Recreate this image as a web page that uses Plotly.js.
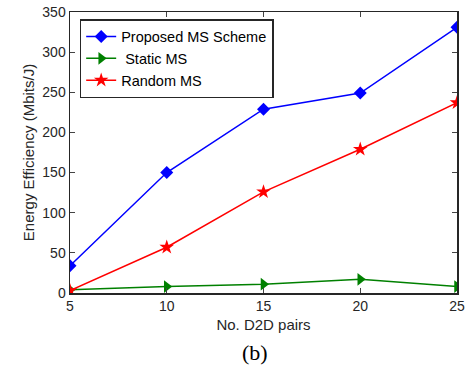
<!DOCTYPE html>
<html><head><meta charset="utf-8">
<script src="https://cdn.plot.ly/plotly-3.0.1.min.js"></script>
<style>html,body{margin:0;padding:0;background:#fff;}#chart{width:467px;height:367px;}</style>
</head><body><div id="chart"></div>
<script>
var pairs = [5, 10, 15, 20, 25];
var proposed = [34, 150, 229, 249, 331];
var staticMS = [4, 8, 11, 17, 8];
var randomMS = [3, 57, 126, 179, 237];
var xTicks = [5, 10, 15, 20, 25];
var yTicks = [0, 50, 100, 150, 200, 250, 300, 350];

var F = 'Liberation Sans, Arial, sans-serif';
var traces = [
  {x: pairs, y: proposed, name: 'Proposed MS Scheme', mode: 'lines+markers',
   line: {color: '#0000ff', width: 1.5}, marker: {symbol: 'diamond', size: 10, color: '#0000ff'}},
  {x: pairs, y: staticMS, name: ' Static MS', mode: 'lines+markers',
   line: {color: '#008000', width: 1.5}, marker: {symbol: 'triangle-right', size: 11, color: '#008000'}},
  {x: pairs, y: randomMS, name: 'Random MS', mode: 'lines+markers',
   line: {color: '#ff0000', width: 1.5}, marker: {symbol: 'star', size: 11, color: '#ff0000'}}
];
var layout = {
  width: 467, height: 367,
  margin: {l: 70, r: 10, t: 12, b: 74},
  paper_bgcolor: '#fff', plot_bgcolor: '#fff',
  font: {family: F, size: 14, color: '#262626'},
  showlegend: true,
  legend: {x: 0.025, y: 0.975, xanchor: 'left', yanchor: 'top', bgcolor: '#fff',
           bordercolor: '#262626', borderwidth: 1.5, font: {family: F, size: 14.5, color: '#000'},
           tracegroupgap: 0},
  xaxis: {range: [5, 25], tickvals: xTicks, ticktext: xTicks.map(String), ticks: 'inside', ticklen: 5,
          showline: true, linecolor: '#262626', linewidth: 1.5, mirror: 'ticks', showgrid: false, zeroline: false,
          tickfont: {size: 14},
          title: {text: 'No. D2D pairs', font: {family: F, size: 15, color: '#262626'}, standoff: 6}},
  yaxis: {range: [0, 350], tickvals: yTicks, ticktext: yTicks.map(String), ticks: 'inside', ticklen: 5,
          showline: true, linecolor: '#262626', linewidth: 1.5, mirror: 'ticks', showgrid: false, zeroline: false,
          tickfont: {size: 14},
          title: {text: 'Energy Efficiency (Mbits/J)', font: {family: F, size: 15, color: '#262626'}, standoff: 4}},
  annotations: [{text: '(b)', xref: 'paper', yref: 'paper', x: 0.478, y: -0.21, xanchor: 'center', yanchor: 'middle',
                 showarrow: false, font: {family: 'Liberation Serif, Times New Roman, serif', size: 22, color: '#000'}}]
};
Plotly.newPlot('chart', traces, layout, {displayModeBar: false, staticPlot: true});
</script>
</body></html>
